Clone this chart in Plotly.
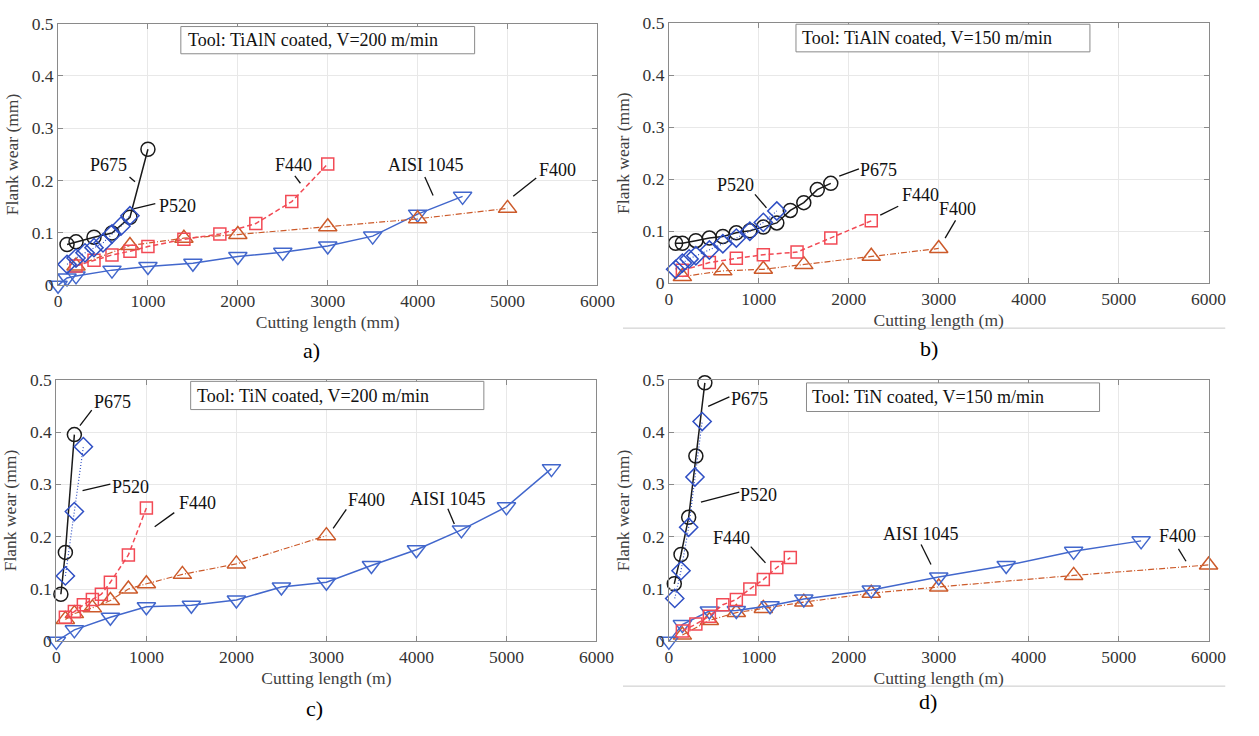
import plotly.graph_objects as go

# ---------------- data ----------------
# a) TiAlN, V=200
a_p675_x = [100, 200, 400, 600, 800, 1000]
a_p675_y = [0.078, 0.083, 0.092, 0.10, 0.13, 0.26]
a_p520_x = [100, 200, 300, 400, 500, 600, 700, 800]
a_p520_y = [0.040, 0.052, 0.062, 0.072, 0.081, 0.098, 0.113, 0.133]
a_f440_x = [200, 400, 600, 800, 1000, 1400, 1800, 2200, 2600, 3000]
a_f440_y = [0.037, 0.048, 0.058, 0.065, 0.074, 0.088, 0.098, 0.118, 0.160, 0.232]
a_f400_x = [200, 800, 1400, 2000, 3000, 4000, 5000]
a_f400_y = [0.037, 0.076, 0.090, 0.097, 0.112, 0.127, 0.147]
a_aisi_x = [0, 100, 200, 600, 1000, 1500, 2000, 2500, 3000, 3500, 4000, 4500]
a_aisi_y = [0.0, 0.014, 0.018, 0.029, 0.036, 0.042, 0.055, 0.063, 0.075, 0.094, 0.136, 0.170]

# b) TiAlN, V=150
b_p675_x = [75, 150, 300, 450, 600, 750, 900, 1050, 1200, 1350, 1500, 1650, 1800]
b_p675_y = [0.077, 0.077, 0.082, 0.087, 0.090, 0.097, 0.101, 0.108, 0.116, 0.140, 0.155, 0.180, 0.192]
b_p520_x = [75, 150, 225, 300, 450, 600, 750, 900, 1050, 1200]
b_p520_y = [0.027, 0.039, 0.047, 0.053, 0.064, 0.076, 0.087, 0.100, 0.117, 0.139]
b_f440_x = [150, 450, 750, 1050, 1425, 1800, 2250]
b_f440_y = [0.025, 0.040, 0.048, 0.055, 0.060, 0.087, 0.120]
b_f400_x = [150, 600, 1050, 1500, 2250, 3000]
b_f400_y = [0.013, 0.024, 0.027, 0.036, 0.052, 0.067]

# c) TiN, V=200
c_p675_x = [50, 100, 200]
c_p675_y = [0.090, 0.170, 0.395]
c_p520_x = [100, 200, 300]
c_p520_y = [0.125, 0.248, 0.372]
c_f440_x = [100, 200, 300, 400, 500, 600, 800, 1000]
c_f440_y = [0.046, 0.057, 0.070, 0.080, 0.090, 0.113, 0.165, 0.255]
c_f400_x = [100, 200, 400, 600, 800, 1000, 1400, 2000, 3000]
c_f400_y = [0.042, 0.053, 0.064, 0.078, 0.100, 0.110, 0.128, 0.148, 0.202]
c_aisi_x = [0, 200, 600, 1000, 1500, 2000, 2500, 3000, 3500, 4000, 4500, 5000, 5500]
c_aisi_y = [0.0, 0.022, 0.046, 0.066, 0.069, 0.079, 0.104, 0.113, 0.145, 0.175, 0.213, 0.257, 0.330]

# d) TiN, V=150
d_p675_x = [60, 135, 220, 300, 400]
d_p675_y = [0.110, 0.166, 0.237, 0.354, 0.494]
d_p520_x = [65, 135, 220, 290, 370]
d_p520_y = [0.082, 0.135, 0.218, 0.314, 0.420]
d_f440_x = [150, 300, 450, 600, 750, 900, 1050, 1200, 1350]
d_f440_y = [0.020, 0.033, 0.048, 0.070, 0.080, 0.100, 0.118, 0.141, 0.160]
d_f400_x = [150, 450, 750, 1050, 1500, 2250, 3000, 4500, 6000]
d_f400_y = [0.012, 0.040, 0.055, 0.063, 0.075, 0.092, 0.104, 0.126, 0.146]
d_aisi_x = [0, 150, 450, 750, 1125, 1500, 2250, 3000, 3750, 4500, 5250]
d_aisi_y = [0.0, 0.032, 0.058, 0.059, 0.068, 0.081, 0.098, 0.123, 0.145, 0.172, 0.192]

x_ticks = [0, 1000, 2000, 3000, 4000, 5000, 6000]
y_ticks = [0, 0.1, 0.2, 0.3, 0.4, 0.5]
y_ticktext = ["0", "0.1", "0.2", "0.3", "0.4", "0.5"]

box_texts = ["Tool: TiAlN coated, V=200 m/min", "Tool: TiAlN coated, V=150 m/min",
             "Tool: TiN coated, V=200 m/min", "Tool: TiN coated, V=150 m/min"]
x_titles = ["Cutting length (mm)", "Cutting length (m)", "Cutting length (m)", "Cutting length (m)"]
y_title = "Flank wear (mm)"
captions = ["a)", "b)", "c)", "d)"]

# ---------------- styles ----------------
FONT = "Liberation Serif"
W, H = 1259, 736
styles = {
    "P675": dict(color="#1a1a1a", symbol="circle-open", size=14, dash="solid", lw=1.5),
    "P520": dict(color="#2f4fc4", symbol="diamond-open", size=14, dash="1px,2px", lw=1.2),
    "F440": dict(color="#f24a55", symbol="square-open", size=12, dash="5px,3px", lw=1.5),
    "F400": dict(color="#cc5a2a", symbol="triangle-up-open", size=16, dash="6px,2px,1px,2px", lw=1.2),
    "AISI": dict(color="#4267cc", symbol="triangle-down-open", size=16, dash="solid", lw=1.5),
}

panels = [
    [("AISI", a_aisi_x, a_aisi_y), ("F400", a_f400_x, a_f400_y), ("F440", a_f440_x, a_f440_y),
     ("P675", a_p675_x, a_p675_y), ("P520", a_p520_x, a_p520_y)],
    [("F400", b_f400_x, b_f400_y), ("F440", b_f440_x, b_f440_y),
     ("P675", b_p675_x, b_p675_y), ("P520", b_p520_x, b_p520_y)],
    [("AISI", c_aisi_x, c_aisi_y), ("F400", c_f400_x, c_f400_y), ("F440", c_f440_x, c_f440_y),
     ("P675", c_p675_x, c_p675_y), ("P520", c_p520_x, c_p520_y)],
    [("F400", d_f400_x, d_f400_y), ("AISI", d_aisi_x, d_aisi_y), ("F440", d_f440_x, d_f440_y),
     ("P675", d_p675_x, d_p675_y), ("P520", d_p520_x, d_p520_y)],
]

# pixel geometry of each plotting area: (left, right, top, bottom)
areas = [(55, 604, 14, 283), (676.7, 1226, 13.3, 281), (53.3, 603, 380, 649), (676.7, 1226, 380, 649)]

fig = go.Figure()
for i, series in enumerate(panels):
    xa = "x" if i == 0 else f"x{i+1}"
    ya = "y" if i == 0 else f"y{i+1}"
    for name, xs, ys in series:
        s = styles[name]
        fig.add_trace(go.Scatter(
            x=xs, y=ys, mode="lines+markers", name=name, showlegend=False,
            xaxis=xa, yaxis=ya, cliponaxis=False,
            line=dict(color=s["color"], width=s["lw"], dash=s["dash"]),
            marker=dict(symbol=s["symbol"], size=s["size"], color=s["color"],
                        line=dict(width=1.5, color=s["color"]))))

axis_common = dict(showgrid=True, gridcolor="#e8e8e8", gridwidth=1, showline=True,
                   linecolor="#8a8a8a", linewidth=1, mirror="ticks", ticks="inside",
                   ticklen=5, tickcolor="#8a8a8a", zeroline=False,
                   tickfont=dict(family=FONT, size=17.5, color="#333333"))
layout = {}
for i, (l, r, t, b) in enumerate(areas):
    sfx = "" if i == 0 else str(i + 1)
    layout[f"xaxis{sfx}"] = dict(axis_common, domain=[l / W, r / W], range=[0, 6000],
                                 tickvals=x_ticks, anchor=f"y{sfx}",
                                 title=dict(text=x_titles[i], standoff=5,
                                            font=dict(family=FONT, size=17.5, color="#404040")))
    layout[f"yaxis{sfx}"] = dict(axis_common, domain=[1 - b / H, 1 - t / H], range=[0, 0.5],
                                 tickvals=y_ticks, ticktext=y_ticktext,
                                 anchor=f"x{sfx}",
                                 title=dict(text=y_title, standoff=8,
                                            font=dict(family=FONT, size=17.5, color="#404040")))

fig.update_layout(**layout)

# text box positions in data coords: (x0, x1, y0, y1, text x, text y)
boxes = [(1366, 4634, 0.4424, 0.4944, 1420, 0.469),
         (1413, 4681, 0.4445, 0.4975, 1462, 0.472),
         (1492, 4749, 0.4429, 0.4968, 1545, 0.469),
         (1530, 4788, 0.4392, 0.4938, 1572, 0.466)]

# labels: (text, tx, ty, lx0, ly0, lx1, ly1)
labels = [
    [("P675", 563, 0.229, 795, 0.207, 856, 0.198),
     ("P520", 1330, 0.151, 838, 0.146, 1082, 0.156),
     ("F440", 2623, 0.2295, 2634, 0.209, 2696, 0.195),
     ("AISI 1045", 4093, 0.2295, 4080, 0.207, 4172, 0.1716),
     ("F400", 5557, 0.220, 5319, 0.205, 5063, 0.170)],
    [("P675", 2330, 0.2167, 1894, 0.206, 2113, 0.220),
     ("P520", 746, 0.1886, 957, 0.171, 1085, 0.145),
     ("F440", 2801, 0.170, 2350, 0.131, 2550, 0.148),
     ("F400", 3205, 0.142, 3187, 0.121, 3071, 0.087)],
    [("P675", 620, 0.458, 262, 0.412, 393, 0.442),
     ("P520", 826, 0.2955, 291, 0.288, 600, 0.3005),
     ("F440", 1563, 0.265, 1092, 0.219, 1310, 0.246),
     ("F400", 3447, 0.2704, 3075, 0.216, 3221, 0.252),
     ("AISI 1045", 4347, 0.2723, 4349, 0.2533, 4421, 0.2243)],
    [("P675", 892, 0.4628, 437, 0.449, 673, 0.467),
     ("P520", 1001, 0.2797, 356, 0.266, 783, 0.285),
     ("F440", 692, 0.198, 910, 0.181, 1074, 0.150),
     ("AISI 1045", 2807, 0.2054, 2804, 0.185, 2914, 0.147),
     ("F400", 5654, 0.2017, 5665, 0.1766, 5749, 0.153)],
]

shapes = []
annotations = []
for i in range(4):
    xr = "x" if i == 0 else f"x{i+1}"
    yr = "y" if i == 0 else f"y{i+1}"
    x0, x1, y0, y1, tx, ty = boxes[i]
    shapes.append(dict(type="rect", xref=xr, yref=yr, x0=x0, x1=x1, y0=y0, y1=y1,
                       line=dict(color="#8a8a8a", width=1), fillcolor="white", layer="above"))
    annotations.append(dict(text=box_texts[i], xref=xr, yref=yr, x=tx, y=ty, xanchor="left",
                            yanchor="middle", showarrow=False,
                            font=dict(family=FONT, size=18, color="#111111")))
    for (txt, lx, ly, ax0, ay0, ax1, ay1) in labels[i]:
        annotations.append(dict(text=txt, xref=xr, yref=yr, x=lx, y=ly, showarrow=False,
                                xanchor="center", yanchor="middle",
                                font=dict(family=FONT, size=18, color="#111111")))
        shapes.append(dict(type="line", xref=xr, yref=yr, x0=ax0, y0=ay0, x1=ax1, y1=ay1,
                           line=dict(color="#111111", width=1.3)))

# sub-figure captions
cap_pos = [(313, 350), (941, 348), (316, 718), (940, 711)]
for c, (px, py) in zip(captions, cap_pos):
    annotations.append(dict(text=c, xref="paper", yref="paper", x=px / W, y=1 - py / H,
                            showarrow=False, xanchor="center", yanchor="middle",
                            font=dict(family=FONT, size=22, color="#000000")))

# faint page rules under right-hand panels
for py in (327, 695):
    shapes.append(dict(type="line", xref="paper", yref="paper", x0=630 / W, x1=1243 / W,
                       y0=1 - py / H, y1=1 - py / H, line=dict(color="#c8c8c8", width=1)))

fig.update_layout(width=W, height=H, margin=dict(l=0, r=0, t=0, b=0),
                  paper_bgcolor="white", plot_bgcolor="white",
                  shapes=shapes, annotations=annotations,
                  font=dict(family=FONT))
fig.write_html("out.html")
